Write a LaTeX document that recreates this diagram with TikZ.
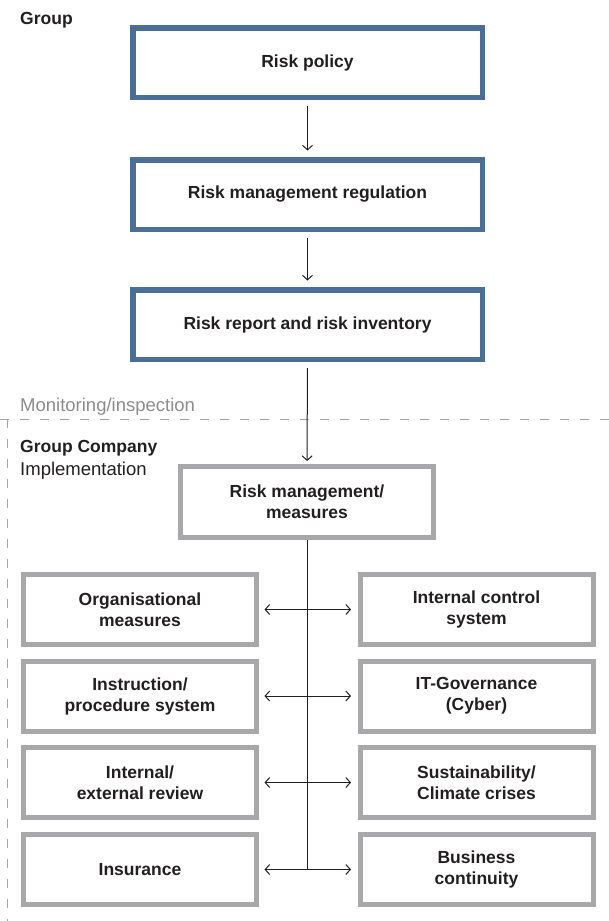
\documentclass[tikz,border=0pt]{standalone}
\usepackage{fontspec}
\setmainfont{Liberation Sans}
\usetikzlibrary{arrows.meta}
\definecolor{boxblue}{HTML}{4A6E96}
\definecolor{boxgray}{HTML}{A8A8AA}
\definecolor{txt}{HTML}{231F20}
\definecolor{dashgray}{HTML}{A6A6A6}
\definecolor{labgray}{HTML}{8C8C8C}
\begin{document}
\begin{tikzpicture}[x=1pt,y=-1pt,
  boxtext/.style={text=txt,align=center,font=\bfseries\fontsize{17.5}{21}\selectfont,inner sep=0pt},
  bluebox/.style={boxtext,draw=boxblue,line width=5.5pt,minimum width=349.5pt,minimum height=69.5pt},
  graybox/.style={boxtext,draw=boxgray,line width=5pt,minimum height=70pt},
  sidebox/.style={graybox,minimum width=233pt},
  conn/.style={draw=txt,line width=1pt},
  tip/.style={-{Straight Barb[length=4.5pt,width=10pt,line width=1pt]}},
  tips/.style={{Straight Barb[length=4.5pt,width=10pt,line width=1pt]}-{Straight Barb[length=4.5pt,width=10pt,line width=1pt]}},
  sectlabel/.style={anchor=base west,inner sep=0pt,text=txt,font=\fontsize{17.5}{21}\selectfont},
  frame/.style={draw=dashgray,line width=1pt,dash pattern=on 9pt off 11pt}
]
\useasboundingbox (0,0) rectangle (609,921);

% section labels
\node[sectlabel,font=\bfseries\fontsize{17.5}{21}\selectfont] (grp) at (20,24) {Group};
\node[sectlabel,text=labgray,font=\fontsize{18.5}{22}\selectfont] (mon) at (20,411) {Monitoring/inspection};
\node[sectlabel,font=\bfseries\fontsize{17.5}{21}\selectfont] (gc) at (20,452) {Group Company};
\node[sectlabel,font=\fontsize{18.5}{22}\selectfont] (impl) at (20,475) {Implementation};

% dashed frame
\coordinate (fl) at (0,419);
\coordinate (fr) at (609,419);
\coordinate (fc) at (7,419);
\coordinate (fb) at (7,921);
\draw[frame] (fl) -- (fr);
\draw[frame] (fc) -- (fb);

% group boxes
\node[bluebox] (pol) at (307.5,62.5) {Risk policy};
\node[bluebox] (reg) at (307.5,194.5) {Risk management regulation};
\node[bluebox] (rep) at (307.5,324.5) {Risk report and risk inventory};

% company boxes
\node[graybox,minimum width=253pt,minimum height=71pt] (rm) at (307,502) {Risk management/\\measures};

\node[sidebox] (l1) at (140,609.5) {Organisational\\measures};
\node[sidebox] (l2) at (140,696) {Instruction/\\procedure system};
\node[sidebox] (l3) at (140,782.5) {Internal/\\external review};
\node[sidebox] (l4) at (140,869.5) {Insurance};

\node[sidebox] (r1) at (476.5,609.5) {Internal control\\system};
\node[sidebox] (r2) at (476.5,696) {IT-Governance\\(Cyber)};
\node[sidebox] (r3) at (476.5,782.5) {Sustainability/\\Climate crises};
\node[sidebox] (r4) at (476.5,869.5) {Business\\continuity};

% vertical arrows
\draw[conn,tip,shorten <=6pt,shorten >=6.5pt] (pol) -- (reg);
\draw[conn,tip,shorten <=6pt,shorten >=6.5pt] (reg) -- (rep);
\draw[conn,tip,shorten <=6pt,shorten >=3pt] (rep) -- (rm);

% spine
\coordinate (spineend) at (307.5,869.5);
\draw[conn] (rm.south -| spineend) -- (spineend);

% horizontal arrows
\foreach \i in {1,2,3,4}{
  \draw[conn,tips,shorten <=5.5pt,shorten >=6.5pt] (l\i) -- (r\i);
}
\end{tikzpicture}
\end{document}
